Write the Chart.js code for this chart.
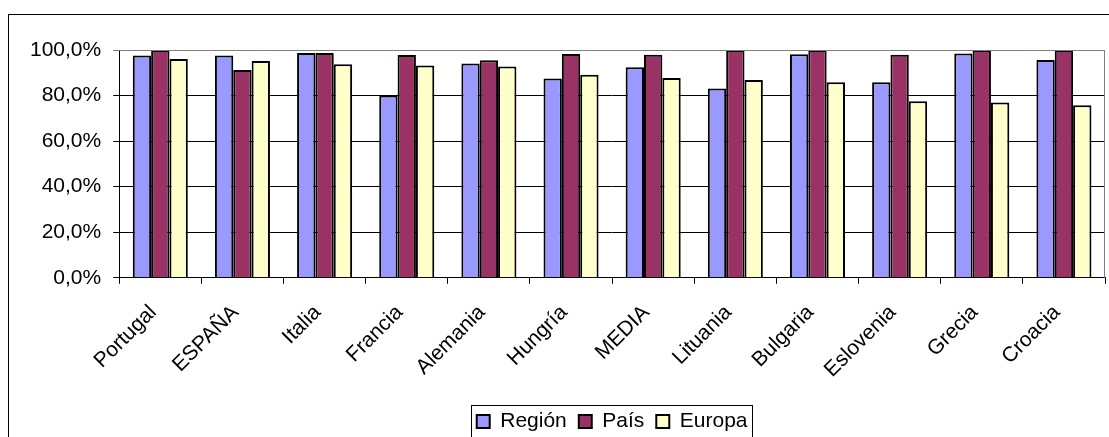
<!DOCTYPE html>
<html>
<head>
<meta charset="utf-8">
<script src="https://cdn.jsdelivr.net/npm/chart.js@4.4.1/dist/chart.umd.min.js"></script>
<style>
  body { margin: 0; background: #fff; overflow: hidden; }
  #wrap { position: relative; width: 1109px; height: 437px; }
  #frame { position: absolute; left: 8px; top: 14px; width: 1200px; height: 500px; border: 1px solid #000; }
  canvas { position: absolute; left: 0; top: 0; }
</style>
</head>
<body>
<div id="wrap">
  <div id="frame"></div>
  <canvas id="chart" width="1109" height="437"></canvas>
</div>
<script>
// Data
const categories = ['Portugal', 'ESPAÑA', 'Italia', 'Francia', 'Alemania', 'Hungría', 'MEDIA', 'Lituania', 'Bulgaria', 'Eslovenia', 'Grecia', 'Croacia'];
const region = [97.6, 97.6, 98.7, 80.0, 94.1, 87.5, 92.4, 83.1, 98.1, 85.8, 98.5, 95.6];
const pais = [100.0, 91.2, 98.7, 97.8, 95.5, 98.2, 97.9, 100.0, 100.0, 97.9, 100.0, 100.0];
const europa = [96.0, 95.2, 93.7, 93.2, 92.8, 89.1, 87.7, 86.8, 85.8, 77.5, 77.0, 75.8];
const yTicks = [0, 20, 40, 60, 80, 100];

const FONT = 'Liberation Sans, Arial, sans-serif';

// Gray frame round the plot area
const plotFrame = {
  id: 'plotFrame',
  afterDraw(chart) {
    const a = chart.chartArea;
    const ctx = chart.ctx;
    ctx.save();
    ctx.strokeStyle = '#808080';
    ctx.lineWidth = 1;
    ctx.beginPath();
    ctx.moveTo(a.left, a.top + 0.5);
    ctx.lineTo(a.right - 0.5, a.top + 0.5);
    ctx.lineTo(a.right - 0.5, a.bottom);
    ctx.stroke();
    ctx.restore();
  },
};

// Box round the legend
const legendBox = {
  id: 'legendBox',
  afterDraw(chart) {
    const boxes = chart.legend.legendHitBoxes;
    if (!boxes || !boxes.length) return;
    const left = Math.min(...boxes.map(b => b.left)) - 6;
    const right = Math.max(...boxes.map(b => b.left + b.width)) + 4;
    const top = Math.min(...boxes.map(b => b.top)) - 6;
    const ctx = chart.ctx;
    ctx.save();
    ctx.strokeStyle = '#000';
    ctx.lineWidth = 1;
    ctx.strokeRect(Math.round(left) + 0.5, Math.round(top) + 0.5, Math.round(right - left), chart.height);
    ctx.restore();
  },
};

function fmt(v) {
  return v.toFixed(1).replace('.', ',') + '%';
}

function barSet(label, data, color) {
  return {
    label: label,
    data: data,
    backgroundColor: color,
    borderColor: '#000',
    borderWidth: 2,
    barPercentage: 1,
    categoryPercentage: 0.67,
  };
}

new Chart(document.getElementById('chart'), {
  type: 'bar',
  data: {
    labels: categories,
    datasets: [
      barSet('Región', region, '#9999FF'),
      barSet('País', pais, '#993366'),
      barSet('Europa', europa, '#FFFFCC'),
    ],
  },
  plugins: [plotFrame, legendBox],
  options: {
    responsive: false,
    animation: false,
    layout: {
      padding: { left: 18, right: 4, top: 50, bottom: -5 },
    },
    plugins: {
      tooltip: { enabled: false },
      legend: {
        position: 'bottom',
        fullSize: false,
        labels: {
          font: { family: FONT, size: 21 },
          color: '#000',
          boxWidth: 13,
          boxHeight: 13,
          padding: 12,
        },
      },
    },
    scales: {
      x: {
        grid: {
          offset: true,
          drawOnChartArea: false,
          color: '#000',
          tickLength: 6,
        },
        border: { color: '#000', width: 1 },
        ticks: {
          font: { family: FONT, size: 21 },
          color: '#000',
          maxRotation: 45,
          minRotation: 45,
          padding: 16.5,
          labelOffset: -7,
          autoSkip: false,
        },
      },
      y: {
        min: 0,
        max: 100,
        afterBuildTicks(scale) {
          scale.ticks = yTicks.map(v => ({ value: v }));
        },
        grid: {
          color: ctx => (ctx.tick && ctx.tick.value === 100 ? '#808080' : '#000'),
          tickLength: 6,
        },
        border: { color: '#000', width: 1 },
        ticks: {
          font: { family: FONT, size: 21 },
          color: '#000',
          padding: 12,
          callback: v => fmt(v),
        },
      },
    },
  },
});
</script>
</body>
</html>
